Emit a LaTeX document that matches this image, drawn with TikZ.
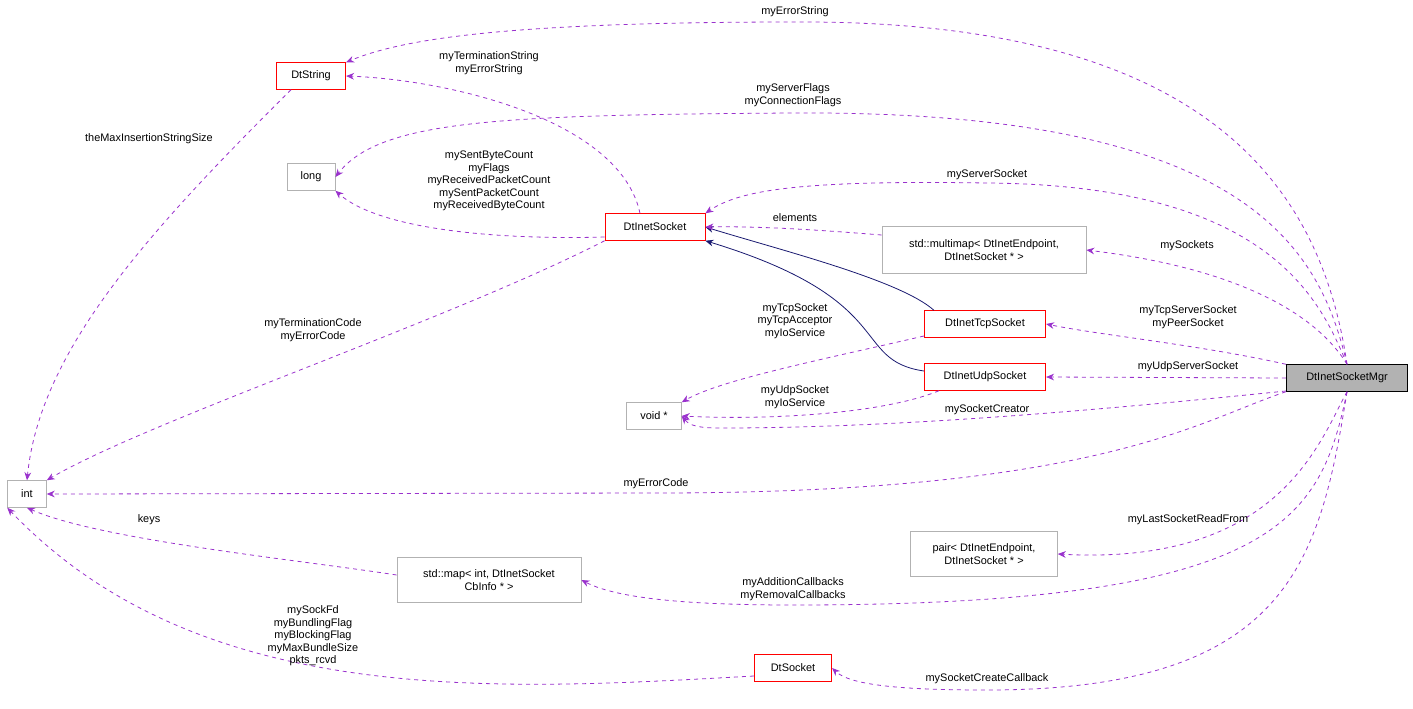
\documentclass[tikz,border=0pt]{standalone}
\usepackage{fontspec}
\setmainfont{Liberation Sans}
\usetikzlibrary{arrows.meta}
\definecolor{edgepurple}{HTML}{9A32CD}
\definecolor{inhnavy}{HTML}{191970}
\begin{document}
\begin{tikzpicture}[
		x=0.75pt, y=-0.75pt,
		font=\fontsize{8.2}{9.4}\selectfont,
		line width=0.6pt,
		every text node part/.style={align=center},
		cls/.style={draw=red, fill=white, inner sep=2pt, minimum height=20pt},
		ext/.style={draw=black!30, fill=white, inner sep=2pt, minimum height=20pt},
		use/.style={dashed, edgepurple, -{Stealth[length=6pt,width=5pt]}},
		inh/.style={inhnavy, -{Stealth[length=6pt,width=5pt]}},
		lbl/.style={inner sep=0pt, align=center}
	]
	\useasboundingbox (0,0) rectangle (1413,708);

	\node[draw=black, fill=black!30, inner sep=2pt, minimum height=20pt, minimum width=91pt] (mgr) at (1347,378) {DtInetSocketMgr};
	\node[cls, minimum width=52pt] (str) at (311,76) {DtString};
	\node[ext, minimum width=36pt] (long) at (311,177) {long};
	\node[cls, minimum width=75pt] (inet) at (655,227) {DtInetSocket};
	\node[ext, minimum width=153pt, minimum height=35pt] (mmap) at (984,250) {std::multimap< DtInetEndpoint,\\ DtInetSocket * >};
	\node[cls, minimum width=91pt] (tcp) at (985,324) {DtInetTcpSocket};
	\node[cls, minimum width=91pt] (udp) at (985,377) {DtInetUdpSocket};
	\node[ext, minimum width=41pt] (void) at (654,416) {void *};
	\node[ext, minimum width=29pt] (int) at (27,494) {int};
	\node[ext, minimum width=138pt, minimum height=34pt] (map) at (489,580) {std::map< int, DtInetSocket\\ CbInfo * >};
	\node[ext, minimum width=110pt, minimum height=34pt] (pair) at (984,554) {pair< DtInetEndpoint,\\ DtInetSocket * >};
	\node[cls, minimum width=58pt] (sock) at (793,668) {DtSocket};

	% inheritance
	\draw[inh] (tcp.north west) ++(10,0) .. controls (900,280) and (780,250) .. (inet.east);
	\draw[inh] (udp.west) ++(0,-6) .. controls (850,360) and (900,300) .. (inet.south east);

	% members of DtInetSocketMgr
	\draw[use] (mgr.north) .. controls (1320,180) and (1200,20) .. (795,22) .. controls (500,22) and (400,40) .. (str.north east);
	\draw[use] (mgr.north) .. controls (1320,250) and (1250,110) .. (793,113) .. controls (500,115) and (380,120) .. (long.east);
	\draw[use] (mgr.north) .. controls (1320,300) and (1270,185) .. (987,183) .. controls (800,180) and (740,190) .. (inet.north east);
	\draw[use] (mgr.north) .. controls (1320,320) and (1250,270) .. (mmap.east);
	\draw[use] (mgr.north west) .. controls (1200,345) and (1100,335) .. (tcp.east);
	\draw[use] (mgr.west) -- (udp.east);
	\draw[use] (mgr.west) ++(0,13) .. controls (1100,410) and (900,428) .. (720,428) .. controls (700,428) and (690,426) .. (void.east);
	\draw[use] (mgr.south west) .. controls (1200,420) and (1100,493) .. (656,493) -- (int.east);
	\draw[use] (mgr.south) .. controls (1320,440) and (1280,566) .. (pair.east);
	\draw[use] (mgr.south) .. controls (1320,520) and (1280,605) .. (793,605) .. controls (700,605) and (620,600) .. (map.east);
	\draw[use] (mgr.south) .. controls (1320,560) and (1290,690) .. (987,690) .. controls (900,690) and (850,685) .. (sock.east);

	% other members
	\draw[use] (str.south) ++(-20,0) .. controls (150,230) and (40,350) .. (int.north);
	\draw[use] (inet.north) ++(-15,0) .. controls (620,120) and (450,80) .. (str.east);
	\draw[use] (inet.west) ++(0,10) .. controls (500,240) and (380,230) .. (long.south east);
	\draw[use] (inet.south west) .. controls (450,320) and (150,420) .. (int.north east);
	\draw[use] (mmap.west) ++(0,-15) .. controls (820,230) and (760,226) .. (inet.east);
	\draw[use] (tcp.west) ++(0,12) .. controls (820,360) and (720,380) .. (void.north east);
	\draw[use] (udp.south west) ++(15,0) .. controls (880,415) and (760,420) .. (void.east);
	\draw[use] (map.west) ++(0,-5) .. controls (300,560) and (100,540) .. (int.south);
	\draw[use] (sock.west) ++(0,8) .. controls (500,690) and (200,710) .. (int.south west);

	% labels
	\node[lbl] (l1) at (795,12) {myErrorString};
	\node[lbl] (l2) at (793,95) {myServerFlags\\ myConnectionFlags};
	\node[lbl] (l3) at (987,175) {myServerSocket};
	\node[lbl] (l4) at (1187,246) {mySockets};
	\node[lbl] (l5) at (1188,317) {myTcpServerSocket\\ myPeerSocket};
	\node[lbl] (l6) at (1188,367) {myUdpServerSocket};
	\node[lbl] (l7) at (987,410) {mySocketCreator};
	\node[lbl] (l8) at (656,484) {myErrorCode};
	\node[lbl] (l9) at (1188,520) {myLastSocketReadFrom};
	\node[lbl] (l10) at (793,589) {myAdditionCallbacks\\ myRemovalCallbacks};
	\node[lbl] (l11) at (987,679) {mySocketCreateCallback};
	\node[lbl] (l12) at (149,139) {theMaxInsertionStringSize};
	\node[lbl] (l13) at (489,63) {myTerminationString\\ myErrorString};
	\node[lbl] (l14) at (489,181) {mySentByteCount\\ myFlags\\ myReceivedPacketCount\\ mySentPacketCount\\ myReceivedByteCount};
	\node[lbl] (l15) at (313,330) {myTerminationCode\\ myErrorCode};
	\node[lbl] (l16) at (795,218) {elements};
	\node[lbl] (l17) at (795,321) {myTcpSocket\\ myTcpAcceptor\\ myIoService};
	\node[lbl] (l18) at (795,397) {myUdpSocket\\ myIoService};
	\node[lbl] (l19) at (149,520) {keys};
	\node[lbl] (l20) at (313,636) {mySockFd\\ myBundlingFlag\\ myBlockingFlag\\ myMaxBundleSize\\ pkts\_rcvd};
\end{tikzpicture}
\end{document}
